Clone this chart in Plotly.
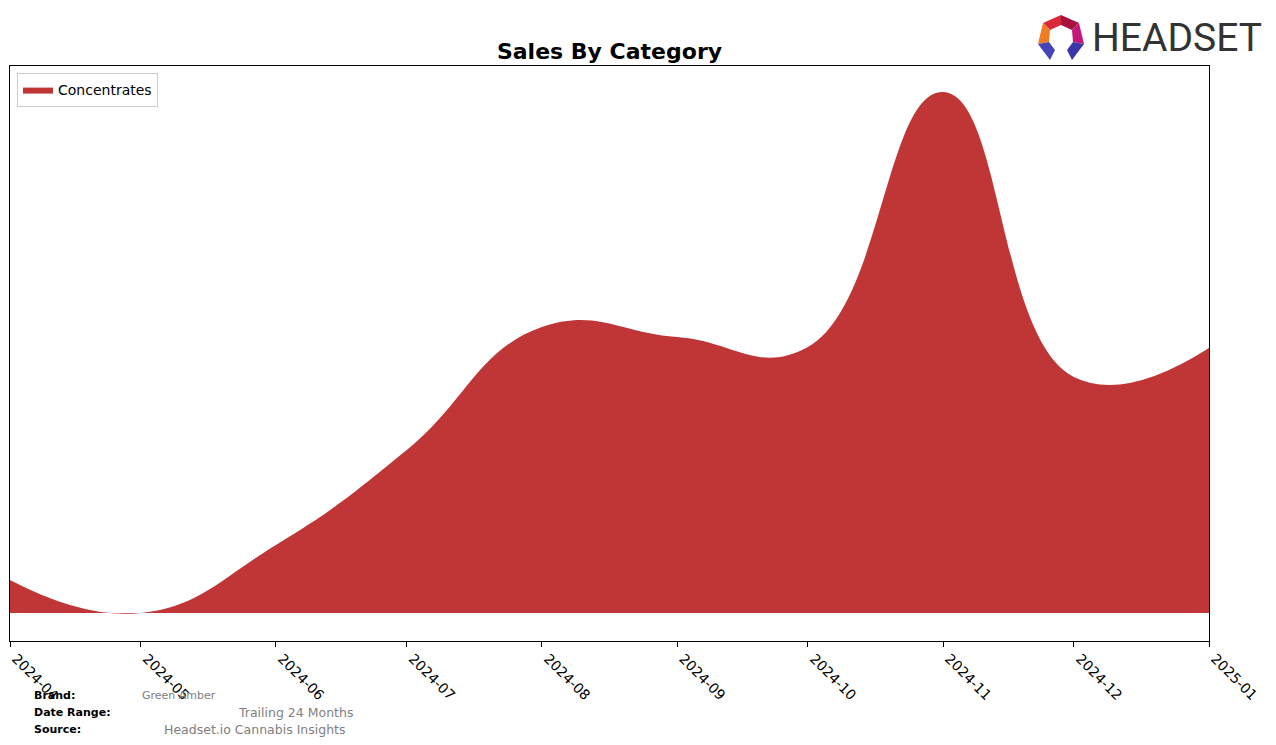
import plotly.graph_objects as go

# ---- data ----
months = ["2024-04-01", "2024-05-01", "2024-06-01", "2024-07-01", "2024-08-01",
          "2024-09-01", "2024-10-01", "2024-11-01", "2024-12-01", "2025-01-01"]
tick_labels = ["2024-04", "2024-05", "2024-06", "2024-07", "2024-08",
               "2024-09", "2024-10", "2024-11", "2024-12", "2025-01"]
concentrates = [33, 0, 68, 163, 286, 276, 266, 521, 236, 265]

W, H = 1276, 745
L, R, T, B = 10, 1209, 66, 641


def px(x):
    return (x - L) / (R - L)


def py(y):
    return (B - y) / (B - T)


RED = "#c03535"

fig = go.Figure()
fig.add_trace(go.Scatter(
    x=months, y=concentrates, name="Concentrates",
    mode="lines", line=dict(shape="spline", smoothing=1.3, width=0, color=RED),
    fill="tozeroy", fillcolor=RED, showlegend=True,
))

# footer annotations
ann = []
def add(x, y, text, size, color, bold=False):
    ann.append(dict(x=px(x), y=py(y), xref="paper", yref="paper", xanchor="left",
                    yanchor="middle", showarrow=False,
                    text=f"<b>{text}</b>" if bold else text,
                    font=dict(family="DejaVu Sans", size=size, color=color)))

add(32, 696, "Brand:", 11, "#000", True)
add(32, 713, "Date Range:", 11, "#000", True)
add(32, 729, "Source:", 11, "#000", True)
add(140, 696, "Green Amber", 11, "#808080")
add(236, 713, "Trailing 24 Months", 12.5, "#808080")
add(162, 729, "Headset.io Cannabis Insights", 12.5, "#808080")

# logo text
ann.append(dict(x=px(1090), y=py(38), xref="paper", yref="paper", xanchor="left",
                yanchor="middle", showarrow=False, text="HEADSET",
                font=dict(family="Roboto", size=39, color="#333333")))

# logo icon
def poly(pts, color):
    d = "M " + " L ".join(f"{px(a)},{py(b)}" for a, b in pts) + " Z"
    return dict(type="path", path=d, xref="paper", yref="paper",
                fillcolor=color, line=dict(width=0), layer="above")

shapes = [
    poly([(1043, 23), (1061, 15), (1061, 25), (1050, 30)], "#d92a3a"),
    poly([(1061, 15), (1079, 23), (1072, 30), (1061, 25)], "#a8123f"),
    poly([(1043, 23), (1050, 30), (1049, 42), (1038, 44)], "#f07c24"),
    poly([(1079, 23), (1084, 44), (1073, 42), (1072, 30)], "#c4177a"),
    poly([(1038, 44), (1049, 42), (1055, 50), (1050, 60)], "#4645b8"),
    poly([(1084, 44), (1073, 42), (1067, 50), (1072, 60)], "#3a36a8"),
]

fig.update_layout(
    width=W, height=H,
    margin=dict(l=L, r=W - R, t=T, b=H - B, autoexpand=False),
    paper_bgcolor="white", plot_bgcolor="white",
    title=dict(text="<b>Sales By Category</b>", x=(L + R) / 2 / W, xanchor="center",
               y=1 - 51 / H, yanchor="middle",
               font=dict(family="DejaVu Sans", size=22, color="#000")),
    font=dict(family="DejaVu Sans", size=14, color="#000"),
    legend=dict(x=px(17), y=py(73), xanchor="left", yanchor="top",
                bordercolor="#cccccc", borderwidth=1, bgcolor="rgba(255,255,255,0.8)",
                font=dict(family="DejaVu Sans", size=14), itemwidth=30),
    xaxis=dict(type="date", range=[months[0], months[-1]], tickvals=months,
               ticktext=tick_labels, tickangle=45, ticks="outside", ticklen=5,
               tickcolor="#000", showgrid=False, zeroline=False, showline=True,
               linecolor="#000", linewidth=1, mirror=True, automargin=False,
               ticklabelshift=6, ticklabelstandoff=-2,
               tickfont=dict(family="DejaVu Sans", size=14)),
    yaxis=dict(range=[-28, 547], showticklabels=False, ticks="", showgrid=False,
               zeroline=False, showline=True, linecolor="#000", linewidth=1, mirror=True,
               automargin=False),
    annotations=ann, shapes=shapes, showlegend=True,
)

fig.write_html("out.html")
